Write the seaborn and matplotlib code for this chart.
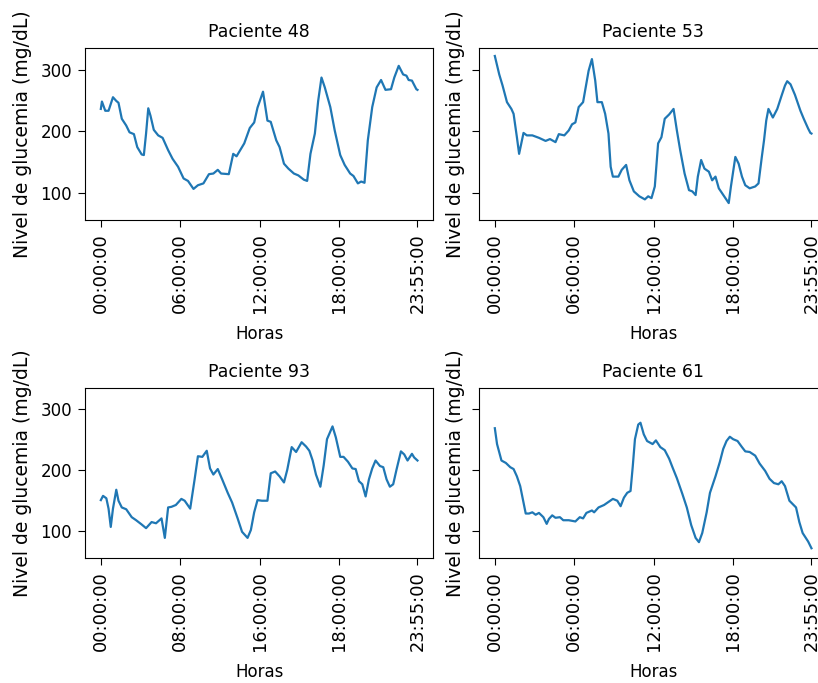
import matplotlib
matplotlib.use("Agg")
import matplotlib.pyplot as plt
import seaborn as sns
import pandas as pd

# ---- data (sample index of 5-minute readings, glucose mg/dL) ----
pacientes = ["Paciente 48", "Paciente 53", "Paciente 93", "Paciente 61"]

idx_48 = [0, 1, 4, 7, 11, 14, 16, 19, 23, 26, 30, 33, 37, 39, 41, 43, 45, 48, 52, 56,
          61, 65, 70, 75, 79, 84, 88, 93, 98, 102, 106, 109, 116, 120, 123, 130, 135, 139,
          142, 147, 151, 154, 159, 162, 166, 170, 175, 179, 184, 187, 190, 194, 197, 200,
          203, 208, 212, 217, 221, 226, 229, 233, 236, 239, 242, 246, 250, 254, 258, 263,
          266, 270, 274, 277, 279, 282, 286, 287]
glu_48 = [236, 248, 233, 233, 255, 249, 246, 220, 209, 198, 195, 174, 162, 161, 196, 237, 225, 202, 193, 189,
          169, 155, 142, 123, 119, 106, 112, 115, 130, 131, 137, 131, 130, 163, 159, 180, 205, 214,
          238, 264, 217, 215, 185, 174, 147, 139, 131, 128, 121, 119, 163, 196, 249, 287,
          271, 239, 201, 161, 145, 131, 127, 115, 118, 116, 185, 239, 271, 283, 267, 268,
          287, 306, 292, 290, 283, 282, 268, 267]

idx_53 = [0, 4, 7, 11, 15, 17, 20, 22, 24, 26, 29, 34, 40, 46, 50, 55, 58, 63, 67, 70,
          73, 76, 80, 85, 88, 91, 93, 97, 100, 103, 105, 107, 112, 115, 119, 122, 126, 131,
          136, 139, 142, 145, 148, 151, 154, 158, 162, 165, 168, 172, 176, 179, 182, 184,
          187, 190, 194, 197, 200, 203, 206, 209, 212, 214, 218, 221, 224, 227, 231, 236,
          239, 242, 244, 246, 248, 252, 256, 260, 263, 265, 268, 272, 277, 280, 284, 286, 287]
glu_53 = [322, 292, 274, 247, 236, 228, 190, 163, 180, 197, 193, 193, 189, 184, 187, 182, 195, 193, 201, 211,
          214, 239, 247, 298, 317, 282, 247, 247, 228, 196, 142, 126, 126, 137, 145, 120, 102, 94,
          89, 94, 91, 110, 180, 190, 220, 227, 236, 201, 169, 131, 104, 102, 96, 126,
          153, 139, 134, 120, 126, 107, 99, 91, 83, 110, 158, 147, 126, 112, 107, 110,
          115, 158, 185, 217, 236, 222, 236, 258, 274, 281, 276, 259, 233, 220, 204, 197, 196]

idx_93 = [0, 2, 5, 7, 9, 11, 14, 16, 19, 23, 28, 32, 37, 41, 46, 50, 55, 58, 61, 64,
          68, 73, 76, 81, 85, 88, 92, 96, 99, 102, 106, 110, 115, 119, 124, 128, 133, 136,
          139, 142, 146, 151, 154, 158, 162, 166, 169, 173, 177, 182, 186, 189, 192, 195,
          199, 202, 205, 210, 213, 217, 220, 224, 228, 231, 234, 237, 240, 243, 246, 249,
          253, 256, 259, 262, 265, 268, 272, 275, 278, 282, 284, 287]
glu_93 = [150, 157, 153, 136, 106, 136, 167, 149, 138, 135, 122, 117, 110, 104, 114, 112, 120, 88, 138, 139,
          142, 152, 149, 136, 184, 222, 221, 231, 202, 192, 201, 184, 162, 146, 120, 98, 88, 101,
          130, 150, 149, 149, 194, 197, 189, 179, 200, 237, 229, 245, 238, 231, 215, 192,
          172, 207, 250, 271, 253, 221, 221, 213, 202, 201, 181, 176, 156, 184, 202, 215,
          206, 204, 184, 172, 176, 200, 230, 225, 215, 226, 220, 215]

idx_61 = [0, 2, 6, 10, 14, 17, 20, 23, 26, 28, 31, 34, 37, 40, 44, 47, 49, 52, 55, 59,
          62, 67, 73, 77, 80, 83, 88, 90, 94, 99, 103, 107, 111, 114, 117, 120, 123, 125,
          127, 130, 132, 135, 138, 143, 146, 150, 154, 158, 161, 165, 170, 174, 178, 182,
          185, 188, 192, 195, 200, 204, 207, 210, 213, 216, 220, 224, 227, 231, 236, 240,
          245, 249, 253, 257, 260, 263, 267, 273, 276, 279, 284, 287]
glu_61 = [268, 242, 215, 211, 204, 201, 189, 173, 146, 128, 128, 130, 126, 129, 122, 111, 119, 125, 121, 122,
          117, 117, 115, 122, 120, 129, 133, 130, 138, 142, 147, 152, 149, 140, 154, 162, 165, 205,
          250, 274, 277, 258, 247, 242, 248, 237, 232, 218, 204, 186, 160, 138, 109, 88,
          81, 96, 130, 162, 189, 213, 234, 247, 254, 250, 247, 237, 230, 229, 223, 210,
          198, 185, 178, 176, 181, 173, 149, 138, 114, 96, 82, 71]

tick_pos = [0, 72, 144, 216, 287]
tick_labels = {
    "Paciente 48": ["00:00:00", "06:00:00", "12:00:00", "18:00:00", "23:55:00"],
    "Paciente 53": ["00:00:00", "06:00:00", "12:00:00", "18:00:00", "23:55:00"],
    "Paciente 93": ["00:00:00", "08:00:00", "16:00:00", "18:00:00", "23:55:00"],
    "Paciente 61": ["00:00:00", "06:00:00", "12:00:00", "18:00:00", "23:55:00"],
}
series = {
    "Paciente 48": (idx_48, glu_48),
    "Paciente 53": (idx_53, glu_53),
    "Paciente 93": (idx_93, glu_93),
    "Paciente 61": (idx_61, glu_61),
}

plt.rcParams["font.family"] = ["DejaVu Sans"]

W, H = 818, 683
fig = plt.figure(figsize=(W / 100, H / 100), dpi=100)

# pixel boxes (left, top, right, bottom)
boxes = [(85, 48.3, 433.3, 220), (479, 48.3, 827.3, 220),
         (85, 387.7, 433.3, 557.7), (479, 387.7, 827.3, 557.7)]

axes = []
for k, (l, t, r, b) in enumerate(boxes):
    ax = fig.add_axes([l / W, 1 - b / H, (r - l) / W, (b - t) / H],
                      sharey=axes[0] if axes else None)
    axes.append(ax)

for k, (name, ax) in enumerate(zip(pacientes, axes)):
    xs, ys = series[name]
    df = pd.DataFrame({"Horas": xs, "Nivel de glucemia (mg/dL)": ys})
    sns.lineplot(data=df, x="Horas", y="Nivel de glucemia (mg/dL)", ax=ax,
                 color="#1f77b4", linewidth=1.6)
    ax.set_title(name, fontsize=12.5, pad=8)
    ax.set_xticks(tick_pos)
    ax.set_xticklabels(tick_labels[name], rotation=90)
    ax.tick_params(axis="x", labelsize=12.8, length=4.7, pad=4.7)
    ax.tick_params(axis="y", labelsize=12, length=4.7, pad=4.7)
    ax.set_xlabel("Horas", fontsize=12, labelpad=9)
    ax.set_ylabel("Nivel de glucemia (mg/dL)", fontsize=13.5, labelpad=5.7)
    ax.set_xlim(-14.35, 301.35)
    if k % 2 == 1:
        ax.tick_params(axis="y", labelleft=False)
    ax.set_yticks([100, 200, 300])

axes[0].set_ylim(55.5, 334.5)

fig.savefig("out.png", dpi=100)
